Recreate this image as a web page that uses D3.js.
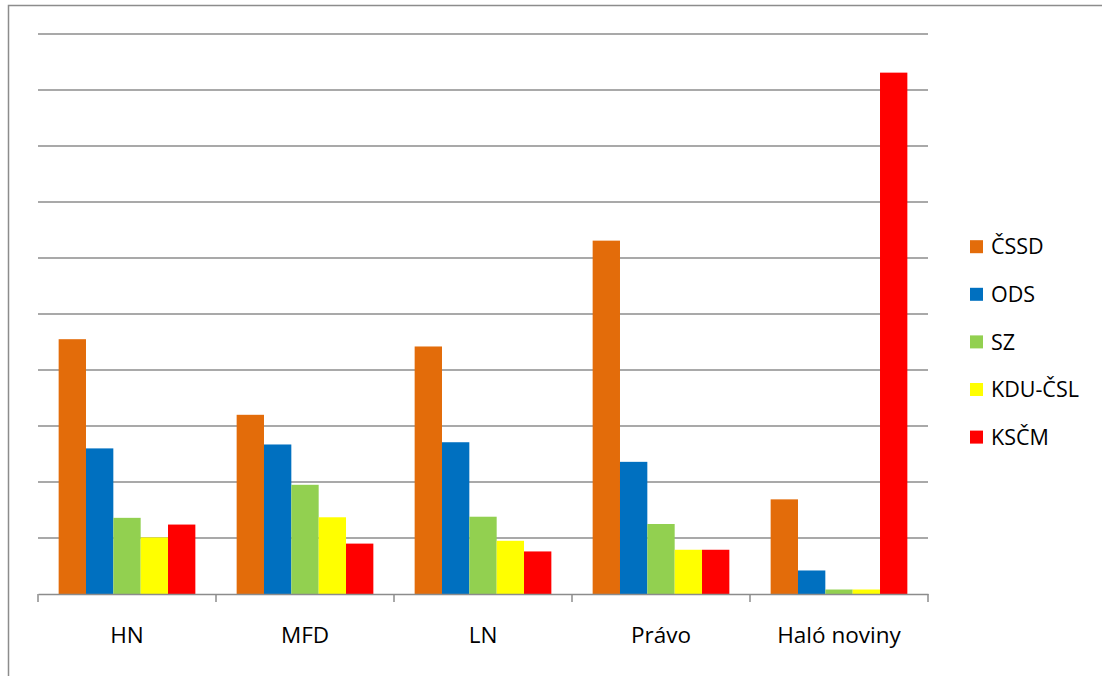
<!DOCTYPE html>
<html><head><meta charset="utf-8">
<script src="https://cdn.jsdelivr.net/npm/d3@7"></script>
<style>html,body{margin:0;padding:0;background:#fff;}svg{display:block;}</style>
</head><body>
<svg id="c" width="1102" height="676"></svg>
<script>
const categories = ["HN", "MFD", "LN", "Právo", "Haló noviny"];
const seriesNames = ["ČSSD", "ODS", "SZ", "KDU-ČSL", "KSČM"];
const colors = ["#E36C0A", "#0070C0", "#92D050", "#FFFF00", "#FF0000"];
const cssd = [4.55, 3.20, 4.42, 6.31, 1.69];
const ods  = [2.60, 2.67, 2.71, 2.36, 0.42];
const sz   = [1.36, 1.95, 1.38, 1.25, 0.08];
const kdu  = [1.01, 1.37, 0.95, 0.79, 0.08];
const kscm = [1.24, 0.90, 0.76, 0.79, 9.31];
const yTicks = [0,1,2,3,4,5,6,7,8,9,10];

const values = [cssd, ods, sz, kdu, kscm];
const svg = d3.select("#c");
const font = "'Open Sans', sans-serif";

// outer chart border
svg.append("rect").attr("x", 8.5).attr("y", 5.5).attr("width", 1200).attr("height", 700)
  .attr("fill", "none").attr("stroke", "#8c8c8c").attr("stroke-width", 1.5);

const pLeft = 38, pRight = 928, pTop = 34, pBottom = 594;
const x0 = d3.scaleBand().domain(categories).range([pLeft, pRight]).padding(0);
const gapFrac = 0.116;
const x1 = d3.scaleBand().domain(seriesNames)
  .range([x0.bandwidth()*gapFrac, x0.bandwidth()*(1-gapFrac)]).padding(0);
const y = d3.scaleLinear().domain([0, 10]).range([pBottom, pTop]);

// gridlines
svg.append("g").selectAll("line").data(yTicks.filter(d => d > 0)).join("line")
  .attr("x1", pLeft).attr("x2", pRight)
  .attr("y1", d => y(d)).attr("y2", d => y(d))
  .attr("stroke", "#8c8c8c").attr("stroke-width", 1.5);

// bars
const g = svg.append("g");
categories.forEach((c, ci) => {
  seriesNames.forEach((s, si) => {
    const v = values[si][ci];
    g.append("rect")
      .attr("x", x0(c) + x1(s))
      .attr("y", y(v))
      .attr("width", x1.bandwidth())
      .attr("height", y(0) - y(v))
      .attr("fill", colors[si]);
  });
});

// x axis
const xAxis = d3.axisBottom(x0).tickSize(0).tickPadding(33);
const ax = svg.append("g").attr("transform", `translate(0,${pBottom})`).call(xAxis);
ax.select(".domain").attr("stroke", "#8c8c8c").attr("stroke-width", 1.5);
ax.selectAll("text").attr("font-family", font).attr("font-size", 22.5).attr("fill", "#000");
// category boundary ticks
const bounds = categories.map(c => x0(c)).concat([pRight]);
svg.append("g").selectAll("line").data(bounds).join("line")
  .attr("x1", d => d).attr("x2", d => d)
  .attr("y1", pBottom).attr("y2", pBottom + 8)
  .attr("stroke", "#8c8c8c").attr("stroke-width", 1.5);

// legend
const legend = svg.append("g");
seriesNames.forEach((s, i) => {
  const cy = 246.7 + i * 47.6;
  legend.append("rect").attr("x", 970).attr("y", cy - 6.5).attr("width", 13).attr("height", 13).attr("fill", colors[i]);
  legend.append("text").attr("x", 991).attr("y", cy).attr("dy", "0.36em")
    .attr("font-family", font).attr("font-size", 21.5).attr("fill", "#000").text(s);
});
</script>
</body></html>
